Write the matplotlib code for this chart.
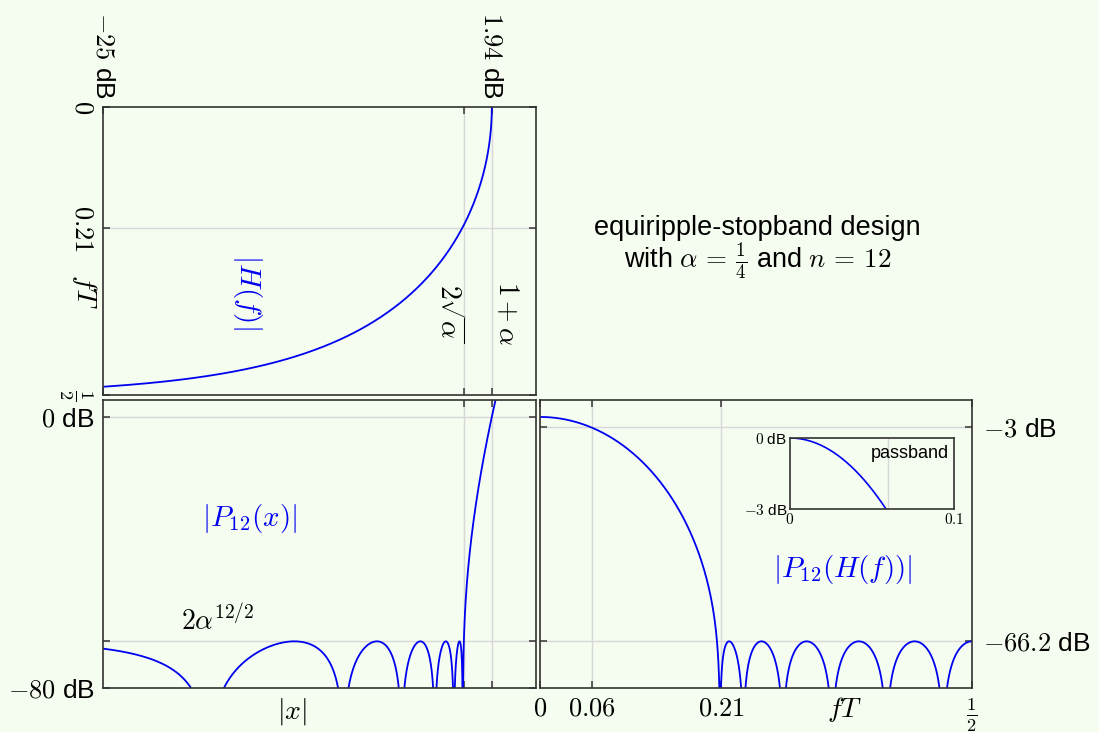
import numpy as np
import matplotlib.pyplot as plt

plt.rcParams['font.family'] = ['Liberation Sans', 'DejaVu Sans']
plt.rcParams['mathtext.fontset'] = 'cm'
plt.rcParams['axes.linewidth'] = 1.2

bg = '#f5fcf0'
blue = '#0000f0'
gridc = '#d8d8d8'

# design parameters
alpha = 1 / 4
n = 12

# axis ranges (dB)
x_db_lim = [-25, 5]
p_db_lim = [-80, 5]

# tick values and their labels
mag_ticks = [-25, 0, 1.94]
mag_labels = ['$-25$ dB', '', '$1.94$ dB']
freq_ticks = [0, 0.06, 0.21, 0.5]
freq_labels = ['$0$', '$0.06$', '$0.21$', r'$\frac{1}{2}$']
freq_ticks_top = [0, 0.21, 0.5]
freq_labels_top = ['$0$', '$0.21$', r'$\frac{1}{2}$']
level_ticks_left = [-80, -66.2, 0]
level_labels_left = ['$-80$ dB', '', '$0$ dB']
level_ticks_right = [-66.2, -3]
level_labels_right = ['$-66.2$ dB', '$-3$ dB']
pass_edge = 0.06
stop_edge = 0.21
ripple_db = -66.2


def cheb(y):
    return np.polynomial.chebyshev.Chebyshev.basis(n)(y)


def P(x):
    return 2 * alpha ** (n / 2) * cheb(x / (2 * np.sqrt(alpha)))


def H(f):
    return (1 + alpha) * np.cos(np.pi * f)


def db(v):
    with np.errstate(divide='ignore'):
        return 20 * np.log10(np.abs(v))


W, Hpx = 1099, 732
fig = plt.figure(figsize=(W / 100, Hpx / 100), dpi=100, facecolor=bg)


def box(l, t, r, b):
    return [l / W, 1 - b / Hpx, (r - l) / W, (b - t) / Hpx]


ax_h = fig.add_axes(box(103, 107, 536, 395))
ax_p = fig.add_axes(box(103, 400, 536, 688))
ax_ph = fig.add_axes(box(540, 400, 972, 688))
ax_in = fig.add_axes(box(790, 438, 954, 509))

for ax in (ax_h, ax_p, ax_ph, ax_in):
    ax.set_facecolor(bg)
    for s in ax.spines.values():
        s.set_color('#333333')
    ax.tick_params(direction='in', length=5, width=1.1, color='#333333',
                   labelsize=19, top=True, bottom=True, left=True, right=True)

# |H(f)| drawn sideways: magnitude across, frequency downwards
f = np.linspace(0, 0.5, 2001)[:-1]
ax_h.plot(db(H(f)), f, color=blue, lw=1.3)
ax_h.set_xlim(x_db_lim)
ax_h.set_ylim(0.5, 0)
for v in mag_ticks[1:]:
    ax_h.axvline(v, color=gridc, lw=1, zorder=0)
ax_h.axhline(stop_edge, color=gridc, lw=1, zorder=0)
ax_h.set_xticks(mag_ticks, mag_labels)
ax_h.tick_params(axis='x', labeltop=True, labelbottom=False, pad=6)
for lab in ax_h.get_xticklabels():
    lab.set_rotation(270)
ax_h.set_yticks(freq_ticks_top, freq_labels_top)
ax_h.tick_params(axis='y', pad=6)
for lab in ax_h.get_yticklabels():
    lab.set_rotation(270)
    lab.set_va('center')
ax_h.text(-0.042, 0.358, '$fT$', transform=ax_h.transAxes, rotation=270,
          ha='center', va='center', fontsize=20)
ax_h.text(-15.0, 0.321, '$|H(f)|$', color=blue, rotation=270,
          ha='center', va='center', fontsize=21)
ax_h.text(-1.05, 0.358, r'$2\sqrt{\alpha}$', rotation=270,
          ha='center', va='center', fontsize=20)
ax_h.text(2.9, 0.358, r'$1+\alpha$', rotation=270,
          ha='center', va='center', fontsize=20)

# |P12(x)| against |x| in dB
xdb = np.linspace(x_db_lim[0], x_db_lim[1], 3000)
ax_p.plot(xdb, db(P(10 ** (xdb / 20))), color=blue, lw=1.3)
ax_p.set_xlim(x_db_lim)
ax_p.set_ylim(p_db_lim)
for v in mag_ticks[1:]:
    ax_p.axvline(v, color=gridc, lw=1, zorder=0)
for v in (ripple_db, 0):
    ax_p.axhline(v, color=gridc, lw=1, zorder=0)
ax_p.set_xticks(mag_ticks[1:], [])
ax_p.set_yticks(level_ticks_left, level_labels_left)
ax_p.tick_params(axis='y', pad=6)
ax_p.text(0.437, -0.083, '$|x|$', transform=ax_p.transAxes,
          ha='center', va='center', fontsize=20)
ax_p.text(0.339, 0.59, '$|P_{12}(x)|$', transform=ax_p.transAxes,
          color=blue, ha='center', va='center', fontsize=21)
ax_p.text(0.266, 0.236, r'$2\alpha^{12/2}$', transform=ax_p.transAxes,
          ha='center', va='center', fontsize=20)

# overall response |P12(H(f))|
f2 = np.linspace(0, 0.5, 4000)
ax_ph.plot(f2, db(P(H(f2))), color=blue, lw=1.3)
ax_ph.set_xlim(0, 0.5)
ax_ph.set_ylim(p_db_lim)
for v in (pass_edge, stop_edge):
    ax_ph.axvline(v, color=gridc, lw=1, zorder=0)
for v in level_ticks_right:
    ax_ph.axhline(v, color=gridc, lw=1, zorder=0)
ax_ph.set_xticks(freq_ticks, freq_labels)
ax_ph.tick_params(axis='x', pad=6)
ax_ph.set_yticks(level_ticks_right, level_labels_right)
ax_ph.tick_params(axis='y', labelleft=False, labelright=True, pad=8)
ax_ph.text(0.706, -0.076, '$fT$', transform=ax_ph.transAxes,
           ha='center', va='center', fontsize=20)
ax_ph.text(0.701, 0.41, '$|P_{12}(H(f))|$', transform=ax_ph.transAxes,
           color=blue, ha='center', va='center', fontsize=21)

# passband close-up
f3 = np.linspace(0, 0.1, 500)
ax_in.plot(f3, db(P(H(f3))), color=blue, lw=1.2)
ax_in.set_xlim(0, 0.1)
ax_in.set_ylim(-3, 0)
ax_in.axvline(pass_edge, color=gridc, lw=1, zorder=0)
ax_in.set_xticks([0, 0.1], ['$0$', '$0.1$'])
ax_in.set_yticks([-3, 0], ['$-3$ dB', '$0$ dB'])
ax_in.tick_params(length=0, labelsize=11, pad=2)
ax_in.text(0.97, 0.9, 'passband', transform=ax_in.transAxes,
           ha='right', va='top', fontsize=13)

fig.text(0.689, 0.6885, 'equiripple-stopband design',
         ha='center', va='center', fontsize=19.5)
fig.text(0.689, 0.642, r'with $\alpha\,=\,\frac{1}{4}$ and $n\,=\,12$',
         ha='center', va='center', fontsize=19.5)

fig.savefig('out.png', dpi=100, facecolor=bg)
